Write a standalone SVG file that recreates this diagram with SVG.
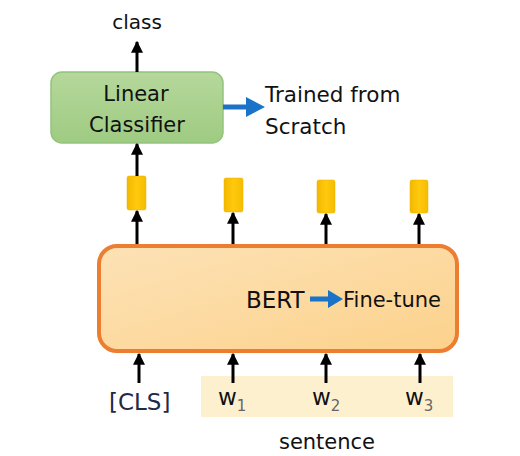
<svg xmlns="http://www.w3.org/2000/svg" width="520" height="456" viewBox="0 0 520 456">
<defs>
<linearGradient id="gGreen" x1="0" y1="0" x2="0" y2="1">
<stop offset="0" stop-color="#b5d89b"/><stop offset="1" stop-color="#9fcb82"/>
</linearGradient>
<linearGradient id="gOrange" x1="0" y1="0" x2="1" y2="1">
<stop offset="0" stop-color="#fde2b6"/><stop offset="1" stop-color="#fcd28c"/>
</linearGradient>
<linearGradient id="gYellow" x1="0" y1="0" x2="1" y2="0">
<stop offset="0" stop-color="#f2b800"/><stop offset="0.5" stop-color="#ffc90e"/><stop offset="1" stop-color="#f5bd00"/>
</linearGradient>
<marker id="ah" viewBox="0 0 10 10" refX="9" refY="5" markerWidth="4" markerHeight="4" orient="auto" markerUnits="strokeWidth">
<path d="M0,0 L10,5 L0,10 z" fill="#000"/>
</marker>
<style>
.t{font-family:"DejaVu Sans","Liberation Sans",sans-serif;fill:#111}
.conn line{stroke:#000;stroke-width:3;marker-end:url(#ah)}
.tok{fill:url(#gYellow);stroke:#e8b000;stroke-width:0.5}
.blue{fill:#1a73c6}
.sub{fill:#666}
</style>
</defs>
<rect width="520" height="456" fill="#fff"/>

<g id="sentence-band">
<rect x="201" y="376" width="252" height="41" fill="#fdf0cf"/>
</g>

<g id="classifier">
<rect x="51" y="72" width="172" height="71" rx="11" fill="url(#gGreen)" stroke="#93c47d" stroke-width="1.5"/>
<text class="t" x="136" y="101" font-size="21" text-anchor="middle">Linear</text>
<text class="t" x="137" y="132" font-size="21" text-anchor="middle">Classifier</text>
</g>

<g id="class-label"><text class="t" x="137" y="29" font-size="20" text-anchor="middle">class</text></g>

<g id="trained">
<path class="blue" d="M223,104.5 H246 V97 L265,107 L246,117 V109.5 H223 z"/>
<text class="t" x="265" y="102" font-size="21.5">Trained from</text>
<text class="t" x="265" y="134" font-size="21.5">Scratch</text>
</g>

<g id="tokens">
<rect class="tok" x="127" y="176" width="19" height="34" rx="2"/>
<rect class="tok" x="224" y="178" width="19" height="34" rx="2"/>
<rect class="tok" x="317" y="180" width="18" height="33" rx="2"/>
<rect class="tok" x="410" y="180" width="18" height="33" rx="2"/>
</g>

<g id="bert">
<rect x="99" y="246" width="358" height="105" rx="18" fill="url(#gOrange)" stroke="#ed7d31" stroke-width="4"/>
<text class="t" x="246" y="308" font-size="23">BERT</text>
<path class="blue" d="M310,296.5 H328 V290 L343,299 L328,308 V301.5 H310 z"/>
<text class="t" x="343" y="307" font-size="21">Fine-tune</text>
</g>

<g id="inputs">
<text class="t" x="109" y="410" font-size="23" style="fill:#1f2a44">[CLS]</text>
<text class="t" x="218" y="405" font-size="23">w<tspan class="sub" font-size="15" dy="6">1</tspan></text>
<text class="t" x="312" y="405" font-size="23">w<tspan class="sub" font-size="15" dy="6">2</tspan></text>
<text class="t" x="405" y="405" font-size="23">w<tspan class="sub" font-size="15" dy="6">3</tspan></text>
</g>

<g id="sentence-label"><text class="t" x="327" y="449" font-size="21" text-anchor="middle">sentence</text></g>

<g class="conn" id="connectors">
<line x1="137" y1="72" x2="137" y2="42"/>
<line x1="137" y1="176" x2="137" y2="144"/>
<line x1="137" y1="244" x2="137" y2="211"/>
<line x1="233" y1="244" x2="233" y2="213"/>
<line x1="326" y1="244" x2="326" y2="214"/>
<line x1="419" y1="244" x2="419" y2="214"/>
<line x1="139" y1="383" x2="139" y2="354"/>
<line x1="233" y1="383" x2="233" y2="354"/>
<line x1="326" y1="383" x2="326" y2="354"/>
<line x1="420" y1="383" x2="420" y2="354"/>
</g>
</svg>
